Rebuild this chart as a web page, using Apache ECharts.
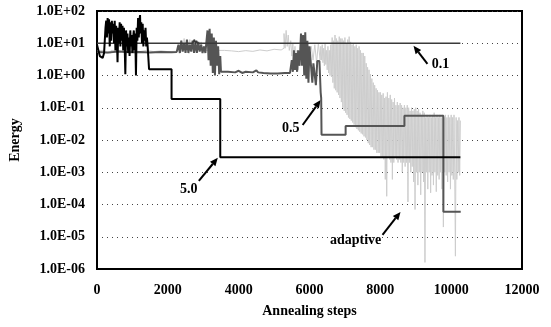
<!DOCTYPE html>
<html><head><meta charset="utf-8">
<script src="https://cdn.jsdelivr.net/npm/echarts@6/dist/echarts.min.js"></script>
<style>html,body{margin:0;padding:0;background:#fff}#c{width:551px;height:327px}</style>
</head><body><div id="c"></div>
<script>
// ---- data ----
const xTicks = [0, 2000, 4000, 6000, 8000, 10000, 12000];
const yTickLabels = ['1.0E-06','1.0E-05','1.0E-04','1.0E-03','1.0E-02','1.0E-01','1.0E+00','1.0E+01','1.0E+02'];

const seriesAdaptive = [
[0,6],[200,5],[400,6],[600,5.5],[800,6],[1000,5.5],[1200,6],[1400,5.5],[1600,5.8],[1800,5.5],[2000,5.6],[2200,5.8],
[2300,9],[2340,6],[2380,12],[2420,6],[2460,14],[2500,6],[2540,11],[2580,6],[2620,13],[2660,6],[2700,10],[2740,6],
[2780,12],[2820,6],[2860,9],[2900,6],[2940,11],[2980,6],[3020,8],[3060,6],[3100,6],
[3600,5.8],[3800,5.5],[4000,5.9],[4200,5.6],[4400,6.2],[4600,5.8],[4800,6.5],[5000,6.2],[5200,7],
[5250,7],[5280,20],[5310,7],[5340,25],[5370,8],[5400,18],[5430,6],[5470,12],[5500,4],[5530,10],[5560,3],[5590,8],
[5620,2],[5650,6],[5680,1.5],[5710,5],[5750,4],[5800,6],[5900,5],[6000,6],
[6050,8],[6100,3],[6150,9],[6200,2.5],[6250,10],[6300,3],
[6320,8],[6340,3],[6360,9],[6380,2.5],[6400,7],[6420,2],[6440,10],[6460,2.2],[6480,6],[6500,1.5],[6520,8],[6540,1.2],[6560,6],[6580,1],[6600,9],
[6620,0.9],[6640,15],[6660,0.6],[6680,12],[6700,0.4],[6720,18],[6740,0.35],[6760,14],[6780,0.3],[6800,12],[6820,0.25],[6840,16],[6860,0.2],[6880,14],[6900,0.15],
[6920,14],[6940,0.1],[6960,12],[6980,0.08],[7000,15],[7020,0.07],[7040,10],[7060,0.06],[7080,13],[7100,0.05],[7120,16],[7140,0.045],[7160,11],[7180,0.04],[7200,9],
[7220,0.035],[7240,10],[7260,0.03],[7280,8],[7300,0.025],[7320,9],[7340,0.022],[7360,7],[7380,0.02],[7400,8],[7420,0.018],[7440,6],[7460,0.016],[7480,5],[7500,0.015],[7520,5],[7540,0.013],[7560,4],[7580,0.012],
[7600,2.4],[7620,0.01],[7640,1.8],[7660,0.008],[7680,1.5],[7700,0.007],[7720,1.1],[7740,0.006],[7760,0.8],[7780,0.006],[7800,0.6],[7820,0.005],[7840,0.5],[7860,0.005],[7880,0.4],[7900,0.004],[7920,0.35],[7940,0.004],[7960,0.3],[7980,0.004],
[8000,0.3],[8020,0.003],[8040,0.25],[8060,0.003],[8080,0.28],[8100,0.0025],[8120,0.2],[8140,0.0006],[8160,0.22],[8180,0.00018],[8200,0.3],[8220,0.003],[8240,0.2],[8260,0.0025],[8280,0.25],[8300,0.002],[8320,0.18],[8340,0.0006],[8360,0.15],[8380,0.002],
[8400,0.2],[8420,0.003],[8440,0.12],[8460,0.0025],[8480,0.15],[8500,0.002],[8520,0.12],[8540,0.0025],[8560,0.14],[8580,0.002],[8600,0.12],[8620,0.001],[8640,0.1],[8660,0.002],[8680,0.12],[8700,0.0015],[8720,0.1],[8740,0.002],[8760,0.12],[8780,0.00012],
[8800,0.1],[8820,0.002],[8840,0.08],[8860,0.001],[8880,0.1],[8900,0.0015],[8920,0.08],[8940,0.0005],[8960,0.09],[8980,0.00007],[9000,0.1],[9020,0.001],[9040,0.08],[9060,0.0004],[9080,0.09],[9100,0.001],[9120,0.07],[9140,0.0002],[9160,0.06],[9180,0.001],[9200,0.08],[9220,0.0005],[9240,0.07],[9260,0.0000016],[9280,0.05],[9300,0.001],
[9320,0.06],[9340,0.0003],[9360,0.05],[9380,0.001],[9400,0.06],[9420,0.00023],[9440,0.05],[9460,0.0008],[9480,0.06],[9500,0.0004],[9520,0.07],[9540,0.001],[9560,0.05],[9580,0.00025],[9600,0.06],[9620,0.0008],[9640,0.05],[9660,0.0006],[9680,0.06],[9700,0.001],[9720,0.05],[9740,0.0003],[9760,0.06],[9780,0.00002],
[9800,0.05],[9820,0.001],[9840,0.06],[9860,0.0008],[9880,0.05],[9900,0.0005],[9920,0.06],[9940,0.001],[9960,0.05],[9980,0.0003],[10000,0.06],[10020,0.0008],[10040,0.05],[10060,0.0006],[10080,0.06],[10100,0.001],[10120,0.0000025],[10140,0.05],[10160,0.0006],[10180,0.04],[10200,0.001],[10220,0.05],[10240,0.0008],[10260,0.04]
];

const series05 = [
[0,5.4],[300,5.2],[600,5.5],[900,5.3],[1200,5.4],[1500,5.2],[1800,5.4],[2100,5.3],[2250,5.4],
[2300,9],[2340,5],[2380,12],[2420,5.5],[2460,10],[2500,5],[2540,13],[2580,5],[2620,9],[2660,5.5],[2700,12],[2740,5],
[2780,10],[2820,5],[2860,11],[2900,5.5],[2940,9],[2980,5],[3020,8],[3060,5],
[3120,25],[3150,3],[3180,28],[3210,2],[3240,20],[3270,1.2],[3300,15],[3330,1.0],[3360,12],[3390,2],[3420,8],[3450,1.1],[3480,4],[3500,1.3],
[3700,1.3],[3900,1.25],[4000,1.4],[4100,1.2],[4200,1.3],[4400,1.25],[4500,1.45],[4550,1.25],[4700,1.2],[4900,1.15],[5100,1.15],[5300,1.2],[5450,1.2],
[5500,3],[5530,1.3],[5560,6],[5590,1.5],[5620,5],[5650,1.3],[5680,6],[5720,2],
[5760,20],[5790,2],[5820,18],[5850,1],[5880,22],[5910,0.8],[5940,12],[5970,0.6],[6000,8],[6030,3],
[6060,3],[6080,0.6],[6110,2.4],[6150,2.4],[6180,0.5],[6220,2.8],[6280,2.8],[6315,2.8],[6315,0.3],[6330,0.2],[6340,0.0145],
[7020,0.0145],[7020,0.027],[8680,0.027],[8680,0.056],[9780,0.056],[9780,0.00006],[10270,0.00006]
];

const series01 = [
[0,10],[500,10],[1000,10],[1500,10],[2000,10],[2700,10],[2750,13],[2780,9.5],[2810,12],[2840,10],[3000,10],
[4000,10],[5000,10],[6000,10],[7000,10],[8000,10],[9000,10],[10260,10]
];

const series50 = [
[0,9],[40,6],[80,4],[120,3.5],[160,3.5],[200,5],
[220,5],[240,30],[260,50],[280,15],[300,60],[320,20],[340,55],[360,8],[380,45],[400,12],[420,50],[440,20],[460,40],[480,10],
[500,50],[520,6],[540,35],[560,15],[580,2.6],[600,30],[620,10],[640,45],[660,8],[680,40],[700,12],[720,35],[740,6],[760,30],
[780,10],[800,1.1],[820,25],[840,8],[860,20],[880,5],[900,15],[920,4],[940,25],[960,8],[980,18],[1000,5],[1020,15],[1040,25],
[1060,6],[1080,20],[1100,1.0],[1120,30],[1140,12],[1160,60],[1180,15],[1200,50],[1215,75],[1230,20],[1250,45],[1270,10],
[1290,40],[1310,8],[1330,25],[1350,12],[1370,30],[1390,8],[1410,15],[1430,8],[1470,1.57],
[2105,1.57],[2105,0.186],[3480,0.186],[3480,0.0029],[10260,0.0029]
];

// annotation positions in data units: text centre, arrow tail, arrow head
const notes = [
  {text:'0.1', at:[9700,2.24], tail:[9330,2.3], head:[8936,8.3]},
  {text:'0.5', at:[5469,0.0234], tail:[5807,0.0292], head:[6315,0.173]},
  {text:'5.0', at:[2594,0.000285], tail:[2875,0.00054], head:[3411,0.0028]},
  {text:'adaptive', at:[7301,0.0000075], tail:[8062,0.0000115], head:[8570,0.000059]}
];

// ---- chart ----
const FONT = '"Liberation Serif","Times New Roman",serif';
const chart = echarts.init(document.getElementById('c'), null, {renderer:'canvas'});
function line(name, data, color, width, step){
  return {name, type:'line', data, showSymbol:false, symbol:'none', animation:false, step:step||false,
    lineStyle:{color, width}, itemStyle:{color}};
}
chart.setOption({
  animation:false,
  backgroundColor:'#fff',
  grid:{left:96, right:29, top:11, bottom:58, show:true, borderColor:'#000', borderWidth:2, backgroundColor:'transparent'},
  xAxis:{type:'value', min:xTicks[0], max:xTicks[xTicks.length-1], interval:2000,
    name:'Annealing steps', nameLocation:'middle', nameGap:35,
    nameTextStyle:{fontFamily:FONT, fontWeight:'bold', fontSize:14, color:'#000'},
    axisLine:{show:true, lineStyle:{color:'#000', width:2}},
    axisTick:{show:false}, splitLine:{show:false},
    axisLabel:{fontFamily:FONT, fontWeight:'bold', fontSize:14, color:'#000', margin:14,
      formatter:function(v){return String(v);}}},
  yAxis:{type:'log', logBase:10, min:1e-6, max:100,
    name:'Energy', nameLocation:'middle', nameGap:75,
    nameTextStyle:{fontFamily:FONT, fontWeight:'bold', fontSize:14, color:'#000'},
    axisLine:{show:true, lineStyle:{color:'#000', width:2}},
    axisTick:{show:false},
    splitLine:{show:true, lineStyle:{color:'#444', width:1, type:[1,4]}},
    axisLabel:{fontFamily:FONT, fontWeight:'bold', fontSize:14, color:'#000', margin:12,
      formatter:function(v){const e=Math.round(Math.log10(v)); return yTickLabels[e+6];}}},
  series:[
    line('adaptive', seriesAdaptive, '#cdcdcd', 1, 'end'),
    line('0.5', series05, '#555555', 2),
    line('0.1', series01, '#3a3a3a', 1.5),
    line('5.0', series50, '#000000', 2)
  ]
});

// annotations (positions derived from data coordinates through the axes)
const g = [];
notes.forEach(n=>{
  const p = chart.convertToPixel({gridIndex:0}, n.at);
  const t = chart.convertToPixel({gridIndex:0}, n.tail);
  const h = chart.convertToPixel({gridIndex:0}, n.head);
  g.push({type:'text', x:p[0], y:p[1], style:{text:n.text, font:'bold 14px '+FONT, fill:'#000', align:'center', verticalAlign:'middle'}});
  const dx=h[0]-t[0], dy=h[1]-t[1], L=Math.hypot(dx,dy), ux=dx/L, uy=dy/L;
  const hl=8, hw=3.5;
  const bx=h[0]-ux*hl, by=h[1]-uy*hl;
  g.push({type:'line', shape:{x1:t[0], y1:t[1], x2:bx, y2:by}, style:{stroke:'#000', lineWidth:2}});
  g.push({type:'polygon', shape:{points:[[h[0],h[1]],[bx-uy*hw,by+ux*hw],[bx+uy*hw,by-ux*hw]]}, style:{fill:'#000'}});
});
chart.setOption({graphic:g});
</script></body></html>
